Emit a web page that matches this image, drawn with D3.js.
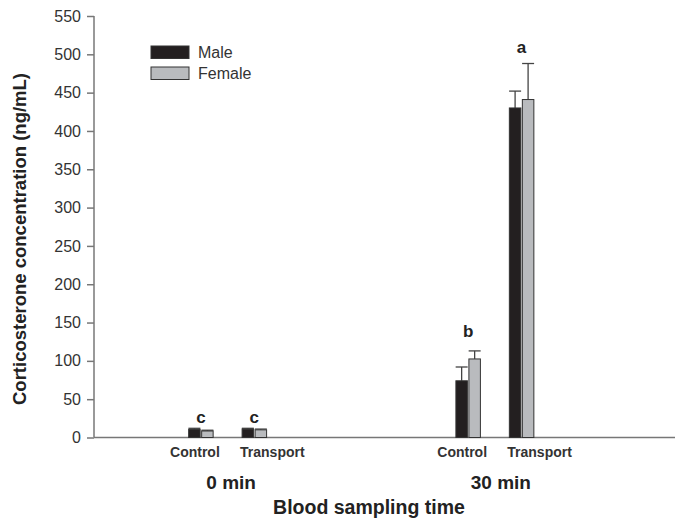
<!DOCTYPE html>
<html>
<head>
<meta charset="utf-8">
<script src="https://cdn.jsdelivr.net/npm/d3@7"></script>
<style>
  body { margin: 0; background: #fff; }
  svg { font-family: "Liberation Sans", Arial, sans-serif; }
  .axis path, .axis line { stroke: #777; stroke-width: 1.5; }
  .axis text { fill: #333; font-size: 16px; }
</style>
</head>
<body>
<div id="chart"></div>
<script>
// data
var times = ["0 min", "30 min"];
var treatments = ["Control", "Transport"];
var groupPos = [2, 3, 7, 8];               // x position of each time/treatment group
var maleMean = [10.5, 11, 74, 430];
var maleErr = [12, 12, 92, 452];            // top of error bar
var femaleMean = [8.5, 10, 102.5, 441];
var femaleErr = [9.5, 11, 113, 488];
var sigLetters = ["c", "c", "b", "a"];
var sigLevel = [19.5, 19.5, 131.5, 502];    // baseline of each letter, in data units
var yTicks = [0, 50, 100, 150, 200, 250, 300, 350, 400, 450, 500, 550];
var series = ["Male", "Female"];

var width = 675, height = 523;

var svg = d3.select("#chart").append("svg")
  .attr("width", width)
  .attr("height", height);

var x = d3.scaleLinear()
  .domain([0, 10.87])
  .range([94, 675]);

var y = d3.scaleLinear()
  .domain([0, 550])
  .range([437.5, 16]);

var colors = { Male: "#231f20", Female: "#b9bbbe" };
var barW = 11.5, gap = 1.5;

// axes
svg.append("g")
  .attr("class", "axis")
  .attr("transform", "translate(94,0)")
  .call(d3.axisLeft(y).tickValues(yTicks).tickSize(7).tickSizeOuter(0).tickPadding(6))
  .call(function(g){ g.select(".domain").attr("d", "M0," + y(550) + "V" + y(0)); });

svg.append("line")
  .attr("x1", x(0)).attr("x2", x(10.87))
  .attr("y1", y(0)).attr("y2", y(0))
  .attr("stroke", "#777").attr("stroke-width", 1.5);

// build bar data
var bars = [];
groupPos.forEach(function(p, i){
  bars.push({ s: "Male", pos: p, v: maleMean[i], e: maleErr[i], off: -gap / 2 - barW });
  bars.push({ s: "Female", pos: p, v: femaleMean[i], e: femaleErr[i], off: gap / 2 });
});

// error bars (upper only)
var eb = svg.selectAll(".err").data(bars).enter().append("g").attr("class", "err")
  .attr("stroke", "#444").attr("stroke-width", 1.3);
eb.append("line")
  .attr("x1", function(d){ return x(d.pos) + d.off + barW / 2; })
  .attr("x2", function(d){ return x(d.pos) + d.off + barW / 2; })
  .attr("y1", function(d){ return y(d.v); })
  .attr("y2", function(d){ return y(d.e); });
eb.append("line")
  .attr("x1", function(d){ return x(d.pos) + d.off + barW / 2 - 6; })
  .attr("x2", function(d){ return x(d.pos) + d.off + barW / 2 + 6; })
  .attr("y1", function(d){ return y(d.e); })
  .attr("y2", function(d){ return y(d.e); });

svg.selectAll(".bar").data(bars).enter().append("rect")
  .attr("class", "bar")
  .attr("x", function(d){ return x(d.pos) + d.off; })
  .attr("y", function(d){ return y(d.v); })
  .attr("width", barW)
  .attr("height", function(d){ return y(0) - y(d.v); })
  .attr("fill", function(d){ return colors[d.s]; })
  .attr("stroke", "#333")
  .attr("stroke-width", 1);

// significance letters
svg.selectAll(".sig").data(groupPos).enter().append("text")
  .attr("class", "sig")
  .attr("x", function(p){ return x(p); })
  .attr("y", function(p, i){ return y(sigLevel[i]); })
  .attr("text-anchor", "middle")
  .attr("font-size", 17).attr("font-weight", "bold").attr("fill", "#222")
  .text(function(p, i){ return sigLetters[i]; });

// treatment labels under the axis
svg.selectAll(".treat").data(groupPos).enter().append("text")
  .attr("class", "treat")
  .attr("x", function(p, i){ return x(p) + (i % 2 === 0 ? -6 : 18); })
  .attr("y", 457)
  .attr("text-anchor", "middle")
  .attr("font-size", 14).attr("font-weight", "bold").attr("fill", "#333")
  .text(function(p, i){ return treatments[i % 2]; });

// time labels
svg.selectAll(".time").data(times).enter().append("text")
  .attr("class", "time")
  .attr("x", function(t, i){ return x((groupPos[i * 2] + groupPos[i * 2 + 1]) / 2) + (i === 0 ? 3.5 : 6); })
  .attr("y", 489)
  .attr("text-anchor", "middle")
  .attr("font-size", 19).attr("font-weight", "bold").attr("fill", "#222")
  .text(function(t){ return t; });

// axis titles
svg.append("text")
  .attr("x", 369).attr("y", 514)
  .attr("text-anchor", "middle")
  .attr("font-size", 19.5).attr("font-weight", "bold").attr("fill", "#222")
  .text("Blood sampling time");

svg.append("text")
  .attr("transform", "translate(26," + 239 + ")rotate(-90)")
  .attr("text-anchor", "middle")
  .attr("font-size", 18.5).attr("font-weight", "bold").attr("fill", "#222")
  .text("Corticosterone concentration (ng/mL)");

// legend
var legend = svg.selectAll(".legend").data(series).enter().append("g")
  .attr("class", "legend")
  .attr("transform", function(d, i){ return "translate(151," + (46 + i * 21) + ")"; });
legend.append("rect")
  .attr("width", 38).attr("height", 12.5)
  .attr("fill", function(d){ return colors[d]; })
  .attr("stroke", "#333").attr("stroke-width", 1);
legend.append("text")
  .attr("x", 47).attr("y", 12)
  .attr("font-size", 16).attr("fill", "#333")
  .text(function(d){ return d; });
</script>
</body>
</html>
